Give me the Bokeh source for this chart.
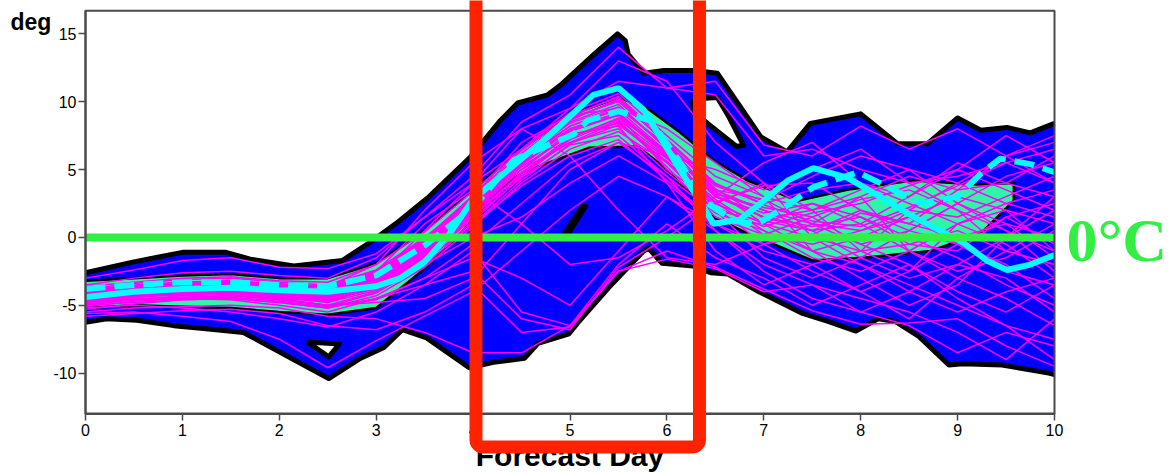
from bokeh.plotting import figure
from bokeh.models import Range1d, FixedTicker, BoxAnnotation, Label
from bokeh.embed import file_html
from bokeh.resources import INLINE

# ---------------- data ----------------
DAYS = [0.0, 0.5, 1.0, 1.5, 2.0, 2.5, 3.0, 3.5, 4.0, 4.5, 5.0,
        5.5, 6.0, 6.5, 7.0, 7.5, 8.0, 8.5, 9.0, 9.5, 10.0]

# ensemble members (magenta)
M01 = [-4.0, -3.6, -3.4, -3.3, -3.6, -3.8, -2.6, -0.2, 3.0, 6.2, 8.8, 10.0, 7.0, 3.5, 2.0, 1.0, 0.5, 1.5, 3.0, 2.0, 1.0]
M02 = [-4.6, -4.2, -4.0, -3.9, -4.2, -4.5, -3.5, -1.2, 1.8, 5.0, 7.8, 9.0, 6.0, 2.5, 1.0, 0.0, -1.0, -0.5, 0.5, -1.0, -2.0]
M03 = [-3.8, -3.4, -3.1, -3.0, -3.3, -3.5, -2.4, 0.0, 2.8, 5.8, 8.2, 9.5, 6.8, 3.8, 2.5, 3.5, 4.0, 2.5, 1.0, -0.5, -3.0]
M04 = [-5.0, -4.6, -4.3, -4.2, -4.6, -5.0, -4.0, -1.8, 1.2, 4.5, 7.2, 8.6, 5.2, 1.5, 0.2, -0.5, 0.5, 2.0, 1.5, 3.0, 4.5]
M05 = [-4.3, -3.9, -3.7, -3.6, -3.9, -4.1, -3.0, -0.6, 2.4, 5.6, 8.5, 9.8, 6.5, 3.0, 1.8, 2.5, 1.0, -1.0, -2.5, -1.5, 0.5]
M06 = [-4.8, -4.5, -4.4, -4.3, -4.5, -4.7, -3.7, -1.5, 1.5, 4.8, 7.0, 8.0, 4.8, 2.0, 1.2, 0.5, -1.5, -3.0, -2.0, 0.0, 2.0]
M07 = [-3.6, -3.3, -3.0, -2.9, -3.2, -3.3, -2.0, 0.4, 3.4, 6.5, 9.2, 10.6, 7.5, 4.5, 3.0, 2.0, 3.5, 5.0, 4.0, 2.5, 1.5]
M08 = [-4.5, -4.1, -3.8, -3.8, -4.0, -4.4, -3.3, -1.0, 2.0, 5.2, 7.5, 8.4, 5.8, 2.8, 0.5, -1.5, -2.5, -1.0, 1.0, 2.5, 3.5]
M09 = [-5.3, -4.9, -4.6, -4.5, -4.8, -5.2, -4.3, -2.2, 0.8, 4.0, 6.5, 7.8, 5.5, 3.2, 2.2, 1.5, 2.8, 3.5, 2.0, 0.5, -1.0]
M10 = [-4.1, -3.8, -3.5, -3.5, -3.8, -3.9, -2.8, -0.4, 2.6, 5.5, 8.0, 9.2, 6.2, 3.5, 2.8, 1.0, -0.5, 0.5, 2.5, 4.5, 5.5]
M11 = [-4.7, -4.3, -4.1, -4.0, -4.3, -4.6, -3.6, -1.3, 1.6, 4.6, 7.3, 8.8, 6.4, 3.0, 1.5, 0.8, 1.5, 0.0, -1.5, -3.5, -5.0]
M12 = [-3.9, -3.5, -3.3, -3.2, -3.5, -3.6, -2.5, -0.1, 2.9, 6.0, 8.4, 9.6, 6.6, 2.2, 0.8, 1.8, 2.5, 3.8, 5.0, 3.5, 2.0]
M13 = [-4.4, -4.0, -3.9, -3.7, -4.0, -4.3, -3.2, -0.9, 2.2, 5.4, 8.0, 9.0, 5.0, 2.6, 3.8, 4.0, 2.0, 0.5, -0.5, 1.5, 2.5]
M14 = [-4.9, -4.4, -4.2, -4.1, -4.4, -4.8, -3.9, -1.6, 1.4, 4.4, 6.8, 7.5, 4.5, 1.8, 0.5, -1.0, 0.0, 1.5, -0.5, -2.5, -3.5]
M15 = [-4.2, -3.7, -3.6, -3.4, -3.7, -4.0, -2.9, -0.5, 2.5, 5.7, 8.6, 10.2, 7.2, 4.0, 2.4, 1.2, 0.8, 2.2, 3.8, 5.5, 6.5]
M16 = [-4.6, -4.2, -4.0, -3.9, -4.1, -4.5, -3.4, -1.1, 1.9, 5.0, 7.6, 8.2, 4.0, 1.0, -0.5, 0.2, 1.8, 1.0, 0.0, 1.0, -1.5]
M17 = [-5.6, -5.5, -5.8, -6.2, -7.5, -9.6, -7.6, -5.8, -4.0, -1.0, 2.0, 4.5, 3.0, 0.5, -2.0, -3.5, -5.5, -6.5, -8.5, -7.0, -8.0]
M18 = [-5.2, -5.0, -5.2, -5.5, -6.0, -6.6, -5.5, -3.5, -1.0, -5.5, -6.5, -2.0, 1.0, -1.5, -3.0, -5.0, -3.5, -2.0, -4.5, -6.5, -9.0]
M19 = [-3.0, -2.4, -1.7, -1.5, -2.2, -2.3, -1.2, 1.5, 4.5, 8.5, 10.5, 14.0, 11.0, 11.5, 6.8, 6.0, 8.2, 6.5, 8.0, 6.0, 7.5]
M20 = [-4.5, -4.2, -4.0, -3.9, -4.2, -4.4, -3.0, 0.5, 4.0, 8.0, 9.5, 11.5, 11.0, 10.5, 6.0, 6.5, 5.0, 4.0, 4.5, 5.5, 4.0]
M21 = [-4.8, -4.6, -4.5, -4.6, -5.0, -5.5, -4.5, -3.0, -1.5, -3.0, -5.0, -1.0, 3.0, 1.0, -1.0, -2.0, -4.0, -6.0, -3.0, -1.0, -2.0]
M22 = [-5.5, -5.2, -5.1, -5.0, -5.2, -5.8, -6.0, -7.0, -8.5, -8.5, -6.5, -2.5, -1.0, -2.2, -3.8, -5.4, -6.4, -6.3, -6.0, -8.0, -9.5]
M23 = [-4.0, -3.8, -3.5, -3.3, -3.5, -3.6, -2.0, 2.0, 5.5, 8.0, 6.0, 2.0, -1.5, -2.0, -0.5, 1.0, 3.0, -1.0, -3.0, -4.5, -6.5]
M24 = [-4.3, -4.0, -3.8, -3.7, -4.0, -4.3, -3.5, -2.0, 0.0, 1.5, 4.0, 6.0, 4.0, -1.0, -3.5, -2.0, -1.0, 2.0, 4.0, 6.0, 4.0]
M25 = [-5.0, -4.8, -4.6, -4.5, -4.8, -5.2, -4.5, -3.5, -2.5, -6.0, -6.8, -2.2, 0.0, 2.5, 4.0, 2.0, -1.0, -2.5, 1.0, 2.0, -1.0]
M26 = [-3.5, -3.0, -2.6, -2.5, -2.8, -3.0, -1.5, 1.5, 4.0, 6.5, 9.5, 13.0, 11.5, 7.0, 4.0, 0.0, -2.0, -4.0, -5.5, -4.0, -3.0]
M27 = [-4.7, -4.3, -4.2, -4.1, -4.5, -5.0, -4.8, -4.5, -3.0, 1.0, 5.0, 7.0, 6.0, 5.0, 3.5, 5.0, 6.5, 4.0, 2.0, -1.0, 1.0]
M28 = [-5.8, -5.6, -5.4, -5.3, -5.6, -6.5, -6.8, -5.5, -3.5, -7.0, -6.6, -2.5, -1.6, -2.3, -4.0, -3.5, -4.5, -5.5, -7.0, -9.0, -6.0]
M29 = [-4.2, -3.9, -3.7, -3.5, -3.8, -4.0, -2.5, 1.0, 3.5, 1.0, -2.0, -1.5, 0.5, 3.0, 5.5, 7.0, 4.0, 3.0, 5.0, 7.5, 5.5]
M30 = [-4.4, -4.1, -3.9, -3.8, -4.1, -4.2, -3.0, -0.5, 3.0, 7.0, 9.0, 9.5, 8.0, 5.5, 3.0, -1.0, -3.0, -5.0, -3.5, 0.0, 3.0]
M31 = [-4.5, -4.1, -3.9, -3.8, -4.1, -4.4, -3.4, -1.0, 2.1, 5.3, 7.9, 9.1, 6.1, 3.4, 1.0, -1.0, -2.0, -3.5, -5.0, -6.5, -7.5]
M32 = [-4.0, -3.7, -3.5, -3.4, -3.7, -3.9, -2.7, -0.3, 2.7, 5.9, 8.7, 10.1, 6.9, 3.6, 1.4, 2.0, 3.0, 4.5, 3.5, 4.0, 6.0]
M33 = [-4.7, -4.4, -4.2, -4.0, -4.3, -4.6, -3.8, -1.7, 1.0, 4.2, 6.9, 8.3, 5.6, 2.2, -0.5, -2.5, -4.0, -2.5, -0.5, -2.0, -4.5]
M34 = [-4.2, -3.8, -3.6, -3.5, -3.8, -4.1, -3.1, -0.8, 2.3, 5.5, 8.2, 9.4, 6.3, 3.3, 2.0, 0.5, 1.0, 3.0, 5.5, 4.0, 3.0]
M35 = [-5.1, -4.7, -4.5, -4.4, -4.7, -5.1, -4.1, -2.0, 1.0, 3.8, 6.0, 7.2, 4.2, 1.2, 1.0, 2.5, 1.5, -0.5, -1.0, 1.5, -0.5]
M36 = [-4.4, -4.0, -3.8, -3.7, -4.0, -4.2, -3.1, -0.7, 2.3, 5.0, 7.0, 8.5, 5.5, 2.0, -1.5, -3.0, -1.5, 0.5, 2.5, 0.5, -2.5]
M37 = [-3.9, -3.6, -3.3, -3.2, -3.4, -3.7, -2.6, -0.2, 2.9, 6.1, 8.9, 10.4, 7.1, 3.9, 2.7, 4.5, 6.0, 5.0, 2.5, 1.0, 0.0]
M38 = [-4.9, -4.6, -4.4, -4.3, -4.6, -5.0, -4.6, -3.0, -0.5, 2.5, 5.5, 7.0, 4.5, 0.5, -2.5, -4.5, -5.5, -4.0, -2.0, -3.0, -5.5]
M39 = [-4.1, -3.7, -3.5, -3.4, -3.6, -3.8, -2.7, -0.1, 3.1, 6.4, 9.0, 10.3, 6.8, 3.1, 1.5, 0.5, 2.0, 1.0, 3.5, 6.0, 7.0]
M40 = [-4.6, -4.3, -4.1, -4.0, -4.4, -4.7, -3.7, -1.4, 1.7, 4.7, 7.4, 8.7, 5.9, 2.6, 0.2, 1.5, -0.5, -2.0, -4.0, -5.5, -3.5]
MEMBERS = [M01, M02, M03, M04, M05, M06, M07, M08, M09, M10,
           M11, M12, M13, M14, M15, M16, M17, M18, M19, M20,
           M21, M22, M23, M24, M25, M26, M27, M28, M29, M30,
           M31, M32, M33, M34, M35, M36, M37, M38, M39, M40]

# full ensemble envelope (blue)
ENV_UP_X = [0, 0.5, 1.0, 1.45, 1.7, 2.15, 2.65, 2.95, 3.2, 3.53, 3.97, 4.28, 4.46, 4.77, 4.9, 5.25,
            5.49, 5.57, 5.6, 5.76, 5.97, 6.28, 6.52, 6.97, 7.24, 7.48, 8.0, 8.38, 8.69, 9.0, 9.24,
            9.51, 9.75, 10]
ENV_UP_Y = [-2.6, -1.8, -1.1, -1.1, -1.6, -2.1, -1.7, -0.3, 1.0, 2.9, 5.9, 8.6, 9.9, 10.5, 11.2, 13.5,
            15.0, 14.5, 13.5, 12.1, 12.3, 12.3, 12.1, 7.4, 6.3, 8.4, 9.1, 6.9, 6.9, 8.8, 7.9,
            8.1, 7.7, 8.4]
ENV_LO_X = [0, 0.22, 0.53, 0.91, 1.19, 1.63, 2.51, 2.84, 3.08, 3.27, 3.52, 3.96, 4.21, 4.53, 4.67,
            4.99, 5.08, 5.4, 5.76, 5.81, 5.95, 6.27, 6.45, 6.63, 6.95, 7.4, 7.67, 7.95, 8.18, 8.36,
            8.6, 8.91, 9.05, 9.46, 9.94, 10]
ENV_LO_Y = [-6.25, -6.0, -6.1, -6.5, -6.7, -7.0, -10.4, -8.9, -8.1, -6.8, -7.4, -9.6, -9.2, -8.9, -7.8,
            -7.1, -6.3, -3.7, -1.0, -0.8, -1.9, -2.1, -2.6, -2.7, -4.0, -5.6, -6.2, -6.9, -6.0, -6.2,
            -7.3, -9.4, -9.3, -9.4, -10.0, -10.1]
HOLE_A_X = [2.29, 2.62, 2.51]
HOLE_A_Y = [-7.7, -7.85, -8.8]
HOLE_B_X = [6.27, 6.52, 6.63, 6.79, 6.72, 6.42, 6.27]
HOLE_B_Y = [10.2, 10.3, 9.0, 6.8, 6.7, 8.4, 9.2]
HOLE_C_X = [4.91, 4.95, 5.16, 5.13]
HOLE_C_Y = [-0.1, -0.1, 2.3, 2.3]

# inner (central) range (aquamarine)
CORE_UP_X = [0, 0.5, 1, 1.5, 2, 2.5, 3, 3.5, 4, 4.5, 5, 5.5, 5.8, 6.14, 6.48, 6.83, 7.35, 7.86, 8.55, 9.2, 9.58]
CORE_UP_Y = [-3.2, -3.0, -2.8, -2.7, -3.0, -3.0, -1.9, 0.5, 3.5, 6.5, 9.0, 10.3, 9.5, 7.7, 5.7, 4.2, 2.7, 3.5, 4.2, 3.9, 4.0]
CORE_LO_X = [0, 0.5, 1, 1.5, 2, 2.5, 3, 3.5, 3.9, 4.15, 4.42, 4.66, 5.2, 5.7, 5.93, 6.28, 6.4, 6.83, 7.17, 7.5,
             8.03, 8.72, 9.24, 9.58]
CORE_LO_Y = [-5.2, -5.0, -5.1, -5.2, -5.5, -5.7, -5.2, -2.3, 0.5, 2.9, 4.4, 5.2, 6.6, 6.7, 5.4, 3.0, 1.8, 0.3, -0.7,
             -1.7, -1.5, -1.0, 0.3, 2.7]

# cyan solid run
CTRL_X = [0, 0.5, 1, 1.5, 2, 2.5, 3, 3.25, 3.5, 3.75, 4, 4.5, 4.77, 5.24, 5.5, 5.76, 6.1, 6.38, 6.48,
          6.75, 7.0, 7.25, 7.51, 7.86, 8.2, 8.55, 9.06, 9.3, 9.51, 9.75, 10]
CTRL_Y = [-4.4, -4.0, -3.8, -3.7, -3.9, -4.0, -3.6, -3.0, -1.8, 0.2, 2.8, 5.8, 7.4, 10.5, 11.0, 9.4, 5.4, 2.2, 1.0,
          1.3, 2.7, 4.2, 5.1, 4.4, 3.0, 1.5, -0.4, -1.7, -2.4, -2.0, -1.3]
# cyan dashed run
MEAN_X = [0, 0.5, 1, 1.5, 2, 2.5, 3, 3.5, 4, 4.42, 5.04, 5.18, 5.5, 5.83, 6.07, 6.4, 6.7, 6.93, 7.17, 7.51,
          7.97, 8.2, 8.62, 9.0, 9.24, 9.44, 9.75, 10]
MEAN_Y = [-3.8, -3.5, -3.3, -3.3, -3.5, -3.6, -2.8, -0.6, 2.2, 5.7, 7.6, 8.6, 9.3, 8.6, 6.2, 2.6, 1.2, 1.0, 2.0, 3.7,
          4.8, 4.0, 2.5, 3.0, 4.7, 5.8, 5.4, 4.8]

FREEZING = 0.0
HIGHLIGHT_DAYS = [4.03, 6.336]

X_TICKS = [0, 1, 2, 3, 4, 5, 6, 7, 8, 9, 10]
Y_TICKS = [-10, -5, 0, 5, 10, 15]
X_TITLE = "Forecast Day"
Y_UNIT = "deg"
ZERO_LABEL = "0°C"

# ---------------- layout / style ----------------
W, H = 1171, 473
PX_PER_DAY = 96.9        # plot box: x 85..1054 px
PX_PER_DEG = 13.576      # plot box: y 10..413 px, 0 deg at 236.9 px
X0_PX, Y0_PX = 85.0, 236.9
X_LO, X_HI = 0.0, 10.0
Y_LO, Y_HI = -13.0, 16.7
BASELINE_FIX = 0.35      # em offset of rendered alphabetic baseline

GREY = "#4a4a4a"
GREEN = "#33ee44"
RED = "#ff2200"
FONT = "Liberation Sans"


def dx(px):
    return (px - X0_PX) / PX_PER_DAY


def dy(py):
    return (Y0_PX - py) / PX_PER_DEG


def text_y(baseline_px, size_px):
    return dy(baseline_px - BASELINE_FIX * size_px)


p = figure(width=W, height=H,
           x_range=Range1d(dx(0), dx(W)), y_range=Range1d(dy(H), dy(0)),
           output_backend="svg", toolbar_location=None,
           min_border_left=0, min_border_right=0, min_border_top=0, min_border_bottom=0)
p.grid.visible = False
p.outline_line_color = None
p.background_fill_color = "white"
p.border_fill_color = "white"

for ax in (p.xaxis[0], p.yaxis[0]):
    ax.axis_line_color = GREY
    ax.axis_line_width = 2
    ax.major_tick_line_color = GREY
    ax.major_tick_line_width = 1.5
    ax.major_tick_out = 7
    ax.major_tick_in = 0
    ax.minor_tick_line_color = None
    ax.major_label_text_font = FONT
    ax.major_label_text_font_size = "16px"
    ax.major_label_text_color = "black"
p.xaxis.fixed_location = Y_LO
p.xaxis.bounds = (X_LO, X_HI)
p.xaxis.ticker = FixedTicker(ticks=X_TICKS)
p.xaxis.major_label_standoff = 3
p.yaxis.fixed_location = X_LO
p.yaxis.bounds = (Y_LO, Y_HI)
p.yaxis.ticker = FixedTicker(ticks=Y_TICKS)
p.yaxis.major_label_overrides = {t: str(t) for t in Y_TICKS}
p.yaxis.major_label_standoff = 2

# envelope fill (with holes) and its outline
p.multi_polygons(xs=[[[ENV_UP_X + ENV_LO_X[::-1], HOLE_A_X, HOLE_B_X, HOLE_C_X]]],
                 ys=[[[ENV_UP_Y + ENV_LO_Y[::-1], HOLE_A_Y, HOLE_B_Y, HOLE_C_Y]]],
                 fill_color="#0000ff", line_color=None)
p.multi_line(xs=[ENV_UP_X, ENV_LO_X, HOLE_A_X + HOLE_A_X[:1], HOLE_B_X + HOLE_B_X[:1], HOLE_C_X + HOLE_C_X[:1]],
             ys=[ENV_UP_Y, ENV_LO_Y, HOLE_A_Y + HOLE_A_Y[:1], HOLE_B_Y + HOLE_B_Y[:1], HOLE_C_Y + HOLE_C_Y[:1]],
             line_color="black", line_width=5, line_join="round")

# central range
p.patch(CORE_UP_X + CORE_LO_X[::-1], CORE_UP_Y + CORE_LO_Y[::-1], fill_color="#30f5a8", line_color=None)
p.line(CORE_UP_X + CORE_LO_X[::-1], CORE_UP_Y + CORE_LO_Y[::-1], line_color="black", line_width=2.5,
       line_join="round")

# members
p.multi_line(xs=[DAYS] * len(MEMBERS), ys=MEMBERS, line_color="#ff00ff", line_width=1.5)

# cyan runs
p.line(MEAN_X, MEAN_Y, line_color="#00ffff", line_width=6, line_dash="20 9")
p.line(CTRL_X, CTRL_Y, line_color="#00ffff", line_width=6)

# freezing level
p.line([DAYS[0], DAYS[-1]], [FREEZING, FREEZING], line_color=GREEN, line_width=8)

# texts
p.add_layout(Label(x=dx(10), y=text_y(29.5, 23), text=Y_UNIT, text_font=FONT, text_font_style="bold",
                   text_font_size="23px", text_align="left", text_baseline="alphabetic", text_color="black"))
p.add_layout(Label(x=(X_LO + X_HI) / 2, y=text_y(465, 30), text=X_TITLE, text_font=FONT,
                   text_font_style="bold", text_font_size="30px", text_align="center",
                   text_baseline="alphabetic", text_color="black"))
p.add_layout(Label(x=dx(1066), y=text_y(261, 62), text=ZERO_LABEL, text_font="Liberation Serif",
                   text_font_style="bold", text_font_size="62px", text_align="left",
                   text_baseline="alphabetic", text_color=GREEN))

# plot box
p.add_layout(BoxAnnotation(left=X_LO, right=X_HI, bottom=Y_LO, top=Y_HI, fill_color=None,
                           line_color=GREY, line_alpha=1, line_width=2, level="overlay"))
# red highlight frame (open above the top of the picture)
p.add_layout(BoxAnnotation(left=HIGHLIGHT_DAYS[0], right=HIGHLIGHT_DAYS[1], bottom=dy(446.5), top=dy(-40),
                           fill_color=None, line_color=RED, line_alpha=1, line_width=13,
                           border_radius=7, level="overlay"))

open("out.html", "w").write(file_html(p, INLINE))
